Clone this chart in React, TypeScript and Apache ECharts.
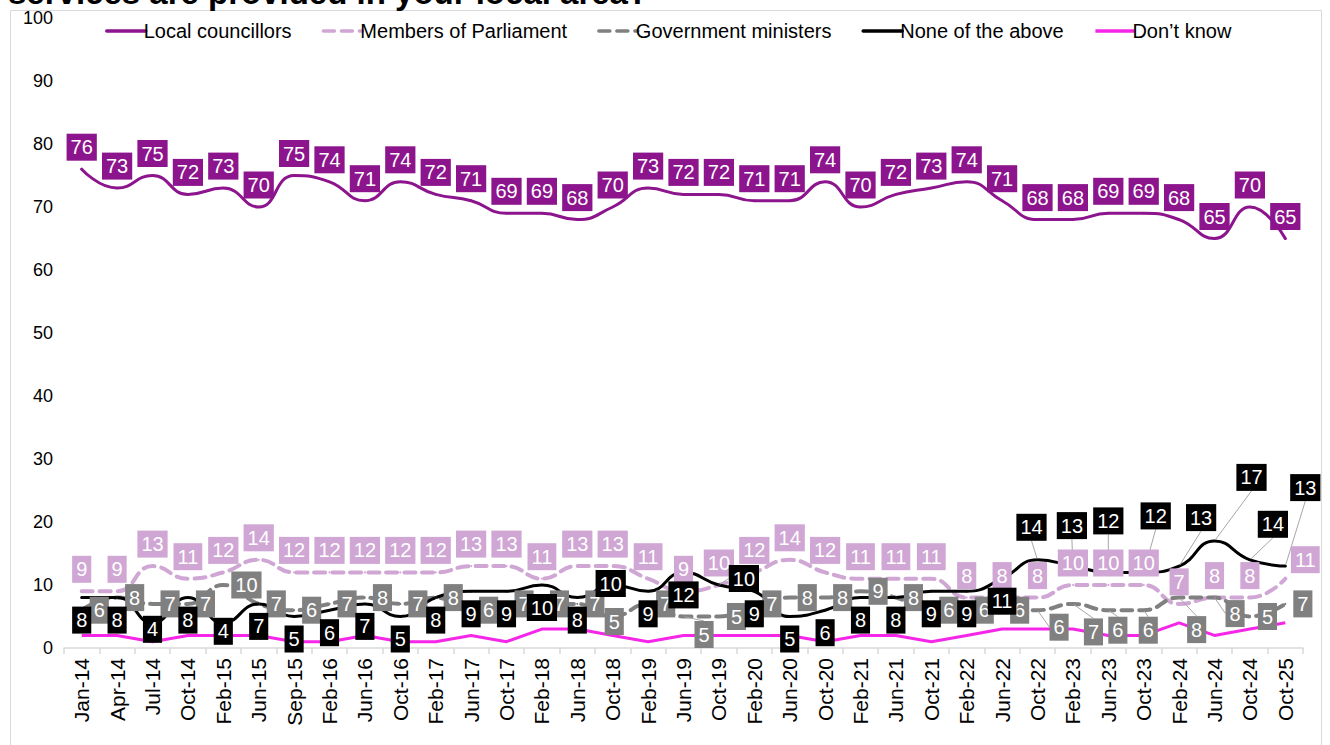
import React, { useEffect, useRef } from "react";
import * as echarts from "echarts";

const categories = ["Jan-14","Apr-14","Jul-14","Oct-14","Feb-15","Jun-15","Sep-15","Feb-16","Jun-16","Oct-16","Feb-17","Jun-17","Oct-17","Feb-18","Jun-18","Oct-18","Feb-19","Jun-19","Oct-19","Feb-20","Jun-20","Oct-20","Feb-21","Jun-21","Oct-21","Feb-22","Jun-22","Oct-22","Feb-23","Jun-23","Oct-23","Feb-24","Jun-24","Oct-24","Oct-25"];
const localCouncillors = [76,73,75,72,73,70,75,74,71,74,72,71,69,69,68,70,73,72,72,71,71,74,70,72,73,74,71,68,68,69,69,68,65,70,65];
const membersOfParliament = [9,9,13,11,12,14,12,12,12,12,12,13,13,11,13,13,11,9,10,12,14,12,11,11,11,8,8,8,10,10,10,7,8,8,11];
const governmentMinisters = [6,8,7,7,10,7,6,7,8,7,8,6,7,7,7,5,7,5,5,7,8,8,9,8,6,6,6,6,7,6,6,8,8,5,7];
const noneOfTheAbove = [8,8,4,8,4,7,5,6,7,5,8,9,9,10,8,10,9,12,10,9,5,6,8,8,9,9,11,14,13,12,12,13,17,14,13];
const dontKnow = [2,2,1,2,2,2,1,1,2,1,1,2,1,3,3,2,1,2,2,2,2,1,2,2,1,2,3,3,3,2,2,4,2,3,4];
const seriesNames = ["Local councillors", "Members of Parliament", "Government ministers", "None of the above", "Don\u2019t know"];
const titleText = "services are provided in your local area?";

// label nudges (style only): index -> [dx, dy]
const mpMoves: Record<number, number[]> = { 34: [20, 3] };
const govMoves: Record<number, number[]> = { 15: [-16, 5], 17: [3, 18], 27: [4, 17], 28: [3, 28], 29: [-8, 20], 30: [-13, 20], 31: [0, 32], 32: [3, 16] };
const noneMoves: Record<number, number[]> = { 2: [0, -16], 4: [0, -14], 15: [-2, -24], 18: [25, -29], 27: [-6, -55], 28: [-1, -63], 29: [0, -74], 30: [12, -79], 31: [22, -71], 32: [37, -86], 33: [23, -58], 34: [20, -101] };
const govLeaders = [17, 27, 28, 29, 30, 31, 32];
const noneLeaders = [18, 27, 28, 29, 30, 31, 32, 33, 34];

const FONT = "Liberation Sans, Arial, sans-serif";

function makeSeries(name: string, values: number[], color: string, lineType: any, width: number,
  pos: string, dist: number, moves: Record<number, number[]>, leaders: number[]) {
  return {
    name,
    type: "line",
    data: values.map((v, i) => (leaders.indexOf(i) >= 0 ? { value: v, labelLine: { show: true } } : v)),
    smooth: true,
    symbol: "circle",
    symbolSize: 2,
    showSymbol: true,
    lineStyle: { color, width, type: lineType, cap: "round" },
    itemStyle: { color },
    label: {
      show: true,
      position: pos,
      distance: dist,
      backgroundColor: color,
      color: "#fff",
      fontSize: 20,
      lineHeight: 19,
      padding: [4, 4, 4, 4],
      fontFamily: FONT,
    },
    labelLine: { show: false, lineStyle: { color: "#a6a6a6", width: 1 } },
    labelLayout: (p: any) => {
      const m = moves[p.dataIndex];
      return m ? { dx: m[0], dy: m[1] } : {};
    },
    emphasis: { disabled: true },
  };
}

export default function App() {
  const ref = useRef<HTMLDivElement>(null);
  useEffect(() => {
    if (!ref.current) return;
    const chart = echarts.init(ref.current, null, { renderer: "svg" });
    const option: any = {
      animation: false,
      backgroundColor: "#fff",
      grid: { left: 64, right: 27, top: 18, bottom: 97 },
      legend: {
        left: 100,
        top: 16,
        itemWidth: 39,
        itemHeight: 22,
        itemGap: 30,
        itemStyle: { opacity: 0 },
        lineStyle: { width: 3.5 },
        textStyle: { fontSize: 20, color: "#000", fontFamily: FONT, padding: [0, 0, 0, -7] },
        data: seriesNames,
      },
      graphic: [
        { type: "rect", shape: { x: 10.5, y: 10.5, width: 1311, height: 800 }, style: { fill: "none", stroke: "#d9d9d9", lineWidth: 1 }, silent: true },
        { type: "text", x: 8, y: 8.5, style: { text: titleText, font: "bold 33px " + FONT, fill: "#000", verticalAlign: "bottom" }, silent: true },
      ],
      xAxis: {
        type: "category",
        data: categories,
        boundaryGap: true,
        axisLine: { lineStyle: { color: "#d9d9d9", width: 1.5 } },
        axisTick: { show: true, length: 6, lineStyle: { color: "#d9d9d9", width: 1.5 } },
        axisLabel: { rotate: 90, fontSize: 21, color: "#000", margin: 10, interval: 0, fontFamily: FONT },
      },
      yAxis: {
        type: "value",
        min: 0,
        max: 100,
        interval: 10,
        axisLine: { show: false },
        axisTick: { show: false },
        splitLine: { show: false },
        axisLabel: { fontSize: 18, color: "#000", margin: 11, fontFamily: FONT },
      },
      series: [
        makeSeries(seriesNames[0], localCouncillors, "#8c148c", "solid", 3, "top", 7.5, {}, []),
        makeSeries(seriesNames[1], membersOfParliament, "#cfa6d4", [11, 7], 4, "top", 7.5, mpMoves, []),
        makeSeries(seriesNames[2], governmentMinisters, "#808080", [11, 7], 4, "right", 7, govMoves, govLeaders),
        makeSeries(seriesNames[3], noneOfTheAbove, "#000000", "solid", 3, "bottom", 8, noneMoves, noneLeaders),
        {
          name: seriesNames[4],
          type: "line",
          data: dontKnow,
          smooth: false,
          symbol: "none",
          lineStyle: { color: "#f526e8", width: 3 },
          itemStyle: { color: "#f526e8" },
          emphasis: { disabled: true },
        },
      ],
    };
    chart.setOption(option);
    return () => chart.dispose();
  }, []);
  return <div ref={ref} style={{ position: "absolute", left: 0, top: 0, width: 1330, height: 745 }} />;
}
